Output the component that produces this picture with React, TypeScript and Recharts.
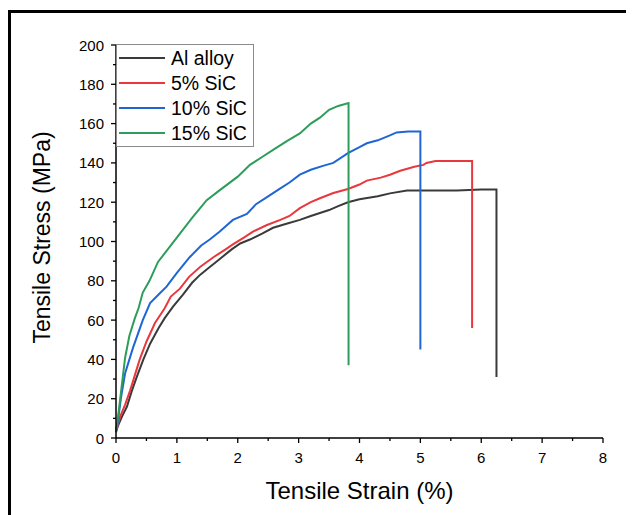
import React from 'react';
import { LineChart, Line, XAxis, YAxis, Label } from 'recharts';

const FONT = '"Liberation Sans", Arial, Helvetica, sans-serif';

const seriesNames = ['Al alloy', '5% SiC', '10% SiC', '15% SiC'];
const seriesColors = ['#3a3a3a', '#e8383d', '#1f66d4', '#2e9c5a'];

const alStrain = [0, 0.03, 0.1, 0.18, 0.26, 0.34, 0.45, 0.56, 0.7, 0.8, 0.94, 1.1, 1.25, 1.38, 1.5, 1.7, 1.9, 2.04, 2.2, 2.4, 2.58, 2.8, 3.02, 3.2, 3.35, 3.5, 3.65, 3.81, 4.0, 4.3, 4.5, 4.78, 5.2, 5.6, 6.0, 6.25, 6.25];
const alStress = [3, 6, 11, 16, 24, 31, 40, 48, 56, 61, 67, 73, 79, 83, 86, 91, 96, 99, 101, 104, 107, 109, 111, 113, 114.5, 116, 118, 120, 121.5, 123, 124.5, 126, 126, 126, 126.5, 126.5, 31];

const sic5Strain = [0, 0.07, 0.15, 0.23, 0.3, 0.39, 0.5, 0.64, 0.8, 0.9, 1.05, 1.2, 1.38, 1.6, 1.8, 1.92, 2.1, 2.25, 2.48, 2.7, 2.85, 3.02, 3.2, 3.35, 3.57, 3.81, 4.0, 4.12, 4.35, 4.5, 4.67, 4.9, 5.05, 5.1, 5.25, 5.43, 5.85, 5.85];
const sic5Stress = [4, 11, 17, 24, 31, 40, 49, 58.5, 66, 72, 76, 82, 87, 92, 96, 98.5, 102, 105, 108.4, 111, 113, 117, 120, 122, 124.7, 126.7, 129, 131, 132.5, 134, 136, 138, 139, 140, 141, 141, 141, 56];

const sic10Strain = [0, 0.02, 0.08, 0.15, 0.22, 0.28, 0.36, 0.44, 0.56, 0.7, 0.83, 1.0, 1.21, 1.4, 1.54, 1.7, 1.92, 2.15, 2.3, 2.48, 2.7, 2.85, 3.02, 3.2, 3.4, 3.57, 3.81, 4.0, 4.12, 4.3, 4.5, 4.61, 4.8, 5.0, 5.0];
const sic10Stress = [5, 6, 20, 33, 40, 46, 53, 60, 68.7, 73, 77, 84, 92, 98, 101, 105, 111, 114, 119, 122.6, 127, 130, 134, 136.5, 138.5, 140, 145, 148, 150, 151.5, 154, 155.5, 156, 156, 45];

const sic15Strain = [0, 0.05, 0.1, 0.15, 0.22, 0.31, 0.37, 0.44, 0.55, 0.69, 0.85, 1.05, 1.25, 1.49, 1.7, 2.0, 2.2, 2.4, 2.6, 2.8, 3.02, 3.2, 3.35, 3.5, 3.65, 3.82, 3.82];
const sic15Stress = [3, 15, 28, 41, 52, 61, 66, 74, 80, 89.6, 96, 104, 112, 121, 126, 133, 139, 143, 147, 151, 155, 160, 163, 167, 169, 170.5, 37];

const strainSets = [alStrain, sic5Strain, sic10Strain, sic15Strain];
const stressSets = [alStress, sic5Stress, sic10Stress, sic15Stress];

const xTicks = [0, 0.5, 1, 1.5, 2, 2.5, 3, 3.5, 4, 4.5, 5, 5.5, 6, 6.5, 7, 7.5, 8];
const yTicks = [0, 10, 20, 30, 40, 50, 60, 70, 80, 90, 100, 110, 120, 130, 140, 150, 160, 170, 180, 190, 200];

const xTitle = 'Tensile Strain (%)';
const yTitle = 'Tensile Stress (MPa)';

const toRows = (xs: number[], ys: number[]) => xs.map((x, i) => ({ x, y: ys[i] }));

const XTick = (props: any) => {
  const { x, y, payload } = props;
  const major = Number.isInteger(payload.value);
  return (
    <g>
      <line x1={x} x2={x} y1={y} y2={y + (major ? 5 : 3)} stroke="#000" strokeWidth={1.3} />
      {major && (
        <text x={x} y={y + 25} textAnchor="middle" fontSize={15} fontFamily={FONT} fill="#000">
          {payload.value}
        </text>
      )}
    </g>
  );
};

const YTick = (props: any) => {
  const { x, y, payload } = props;
  const major = payload.value % 20 === 0;
  return (
    <g>
      <line x1={x} x2={x - (major ? 5 : 3)} y1={y} y2={y} stroke="#000" strokeWidth={1.3} />
      {major && (
        <text x={x - 12} y={y + 5.5} textAnchor="end" fontSize={15} fontFamily={FONT} fill="#000">
          {payload.value}
        </text>
      )}
    </g>
  );
};

const XTitle = (props: any) => {
  const { viewBox } = props;
  const cx = viewBox.x + viewBox.width / 2;
  return (
    <text x={cx} y={viewBox.y + 61} textAnchor="middle" fontSize={24} fontFamily={FONT} fill="#000">
      {xTitle}
    </text>
  );
};

const YTitle = (props: any) => {
  const { viewBox } = props;
  const cx = viewBox.x + viewBox.width - 66;
  const cy = viewBox.y + viewBox.height / 2 - 4;
  return (
    <text
      x={cx}
      y={cy}
      transform={`rotate(-90, ${cx}, ${cy})`}
      textAnchor="middle"
      fontSize={23}
      fontFamily={FONT}
      fill="#000"
    >
      {yTitle}
    </text>
  );
};

export default function App() {
  return (
    <div style={{ position: 'relative', width: 626, height: 507, background: '#fff' }}>
      <div
        style={{
          position: 'absolute',
          left: 0,
          top: 2,
          right: 0,
          bottom: 0,
          borderTop: '3px solid #000',
          borderLeft: '3px solid #000',
        }}
      />
      <div style={{ position: 'absolute', left: 0, top: 0 }}>
        <LineChart width={626} height={507} margin={{ top: 37, right: 31, bottom: 47, left: 48 }}>
          <XAxis
            type="number"
            dataKey="x"
            domain={[0, 8]}
            ticks={xTicks}
            interval={0}
            height={30}
            tickSize={0}
            tickMargin={0}
            tickLine={false}
            tick={<XTick />}
            axisLine={{ stroke: '#000', strokeWidth: 1.5 }}
            allowDuplicatedCategory={false}
          >
            <Label content={<XTitle />} />
          </XAxis>
          <YAxis
            type="number"
            domain={[0, 200]}
            ticks={yTicks}
            interval={0}
            width={60}
            tickSize={0}
            tickMargin={0}
            tickLine={false}
            tick={<YTick />}
            axisLine={{ stroke: '#000', strokeWidth: 1.5 }}
          >
            <Label content={<YTitle />} />
          </YAxis>
          {seriesNames.map((name, i) => (
            <Line
              key={name}
              name={name}
              data={toRows(strainSets[i], stressSets[i])}
              dataKey="y"
              type="linear"
              stroke={seriesColors[i]}
              strokeWidth={2}
              dot={false}
              activeDot={false}
              isAnimationActive={false}
            />
          ))}
        </LineChart>
      </div>
      <div
        style={{
          position: 'absolute',
          left: 108,
          top: 36,
          width: 138,
          height: 103,
          border: '1px solid #8a8a8a',
          background: '#fff',
          boxSizing: 'border-box',
        }}
      >
        <svg width={138} height={103} style={{ position: 'absolute', left: -1, top: -1 }}>
          {seriesNames.map((name, i) => {
            const cy = 14 + i * 25;
            return (
              <g key={name}>
                <line x1={3} x2={49} y1={cy} y2={cy} stroke={seriesColors[i]} strokeWidth={2} />
                <text x={55} y={cy + 7} fontSize={19.5} fontFamily={FONT} fill="#000">
                  {name}
                </text>
              </g>
            );
          })}
        </svg>
      </div>
    </div>
  );
}
